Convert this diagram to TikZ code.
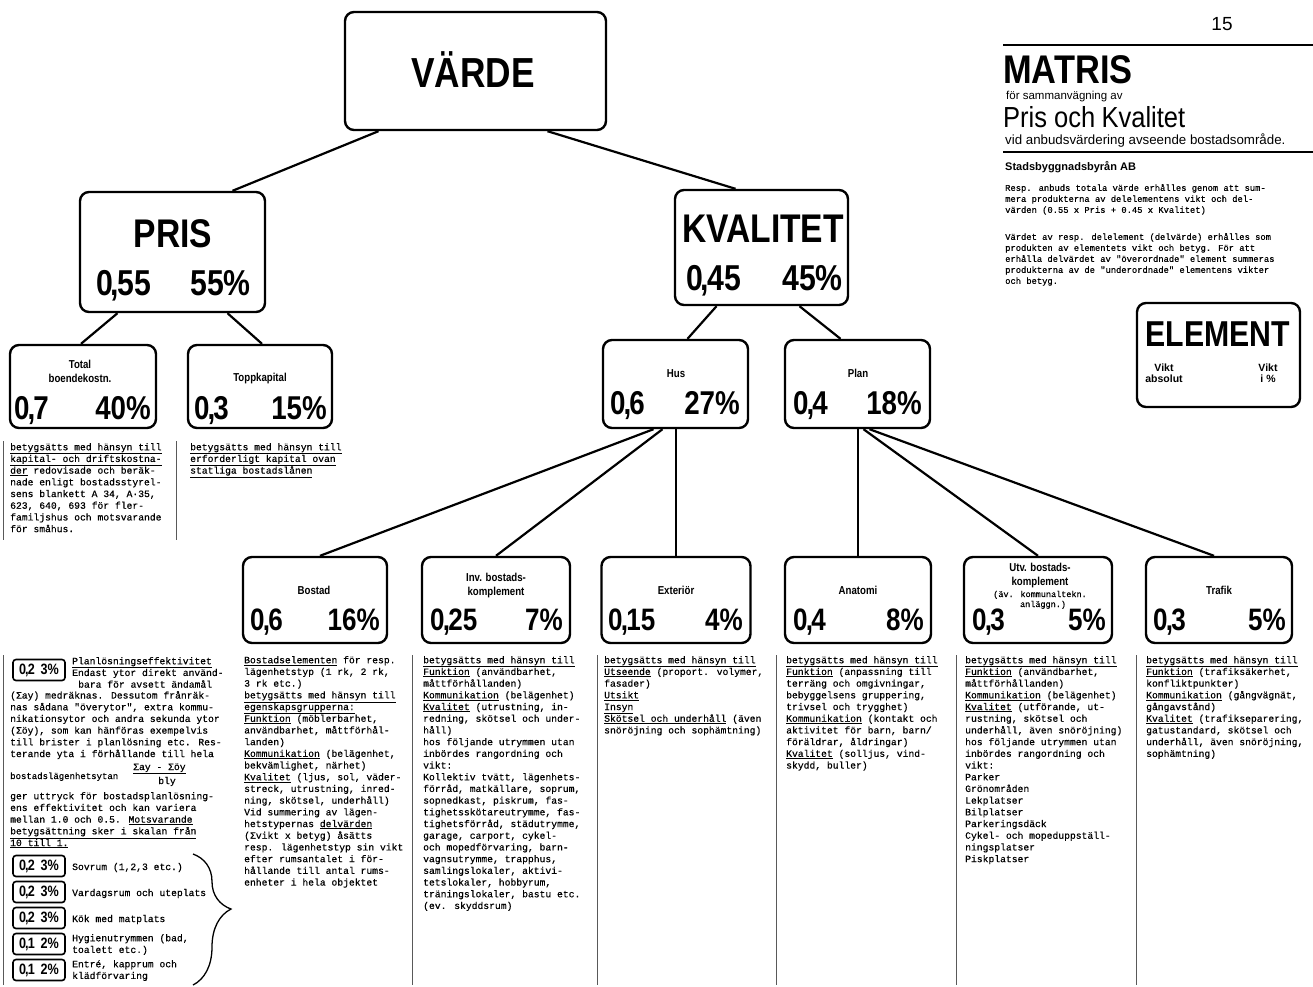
\documentclass[tikz,border=0pt]{standalone}
\usepackage{fontspec}
\setmainfont{Liberation Sans}
\newfontfamily\tw[FakeBold=0.45]{Liberation Mono}
\usepackage{graphicx}
\usetikzlibrary{decorations.pathreplacing,calc}
\newcommand\cnd[1]{\scalebox{0.84}[1]{#1}}
\newcommand\cma{\kern-.07em,\kern-.07em}
\begin{document}
\begin{tikzpicture}[x=1pt,y=-1pt,
  box/.style={draw, line width=2.4pt, rounded corners=9pt, inner sep=0pt},
  sbox/.style={draw, line width=1.6pt, rounded corners=3pt, inner sep=0pt, minimum width=52pt, minimum height=21pt, font=\bfseries\fontsize{15}{15}\selectfont},
  con/.style={line width=2.2pt},
  sep/.style={line width=0.9pt, black!65},
  col/.style={anchor=north west, align=left, inner sep=0pt, font=\tw\fontsize{9.7}{11.7}\selectfont},
  big/.style={inner sep=0pt, font=\bfseries\fontsize{40}{40}\selectfont},
  num1/.style={inner sep=0pt, font=\bfseries\fontsize{36}{36}\selectfont},
  num2/.style={inner sep=0pt, font=\bfseries\fontsize{33}{33}\selectfont},
  num3/.style={inner sep=0pt, font=\bfseries\fontsize{31}{31}\selectfont},
  lab/.style={inner sep=0pt, anchor=base, font=\bfseries\fontsize{11.5}{11.5}\selectfont},
  txt/.style={inner sep=0pt, anchor=base west, font=\tw\fontsize{9.7}{11.7}\selectfont}]
\fill[white] (0,0) rectangle (1313,986);
\useasboundingbox (0,0) rectangle (1313,986);

% ---------------- header ----------------
\node[anchor=base, inner sep=0pt, font=\fontsize{19}{19}\selectfont] (pg) at (1222,30) {15};
\draw[line width=1.5pt] (1003,45) -- (1313,45);
\node[anchor=base west, inner sep=0pt, font=\bfseries\fontsize{40}{40}\selectfont] (mat) at (1003,83) {\scalebox{0.86}[1]{MATRIS}};
\node[anchor=base west, inner sep=0pt, font=\fontsize{11.5}{11.5}\selectfont] (fsv) at (1006,99) {för sammanvägning av};
\node[anchor=base west, inner sep=0pt, font=\fontsize{29}{29}\selectfont] (pok) at (1003,127) {\scalebox{0.88}[1]{Pris och\kern-1pt\ Kvalitet}};
\node[anchor=base west, inner sep=0pt, font=\fontsize{13.3}{13.3}\selectfont] (vid) at (1005,144) {vid anbudsvärdering avseende bostadsområde.};
\draw[line width=1.5pt] (1003,152) -- (1313,152);
\node[anchor=base west, inner sep=0pt, font=\bfseries\fontsize{11}{11}\selectfont] (sb) at (1005,170) {Stadsbyggnadsbyrån AB};
\node[anchor=north west, align=left, inner sep=0pt, font=\tw\fontsize{8.8}{11}\selectfont] (p1) at (1005,184)
 {Resp. anbuds totala värde erhålles genom att sum-\\mera produkterna av delelementens vikt och del-\\värden (0.55 x Pris + 0.45 x Kvalitet)};
\node[anchor=north west, align=left, inner sep=0pt, font=\tw\fontsize{8.8}{11}\selectfont] (p2) at (1005,233)
 {Värdet av resp. delelement (delvärde) erhålles som\\produkten av elementets vikt och betyg. För att\\erhålla delvärdet av "överordnade" element summeras\\produkterna av de "underordnade" elementens vikter\\och betyg.};

% ELEMENT legend
\node[box, minimum width=163pt, minimum height=104pt] (elem) at (1218.5,355) {};
\node[anchor=base, inner sep=0pt, font=\bfseries\fontsize{36}{36}\selectfont] (elemt) at (1218,346) {\cnd{ELEMENT}};
\node[anchor=north, align=center, inner sep=0pt, font=\bfseries\fontsize{10.5}{11}\selectfont] (vabs) at (1164,364) {Vikt\\absolut};
\node[anchor=north, align=center, inner sep=0pt, font=\bfseries\fontsize{10.5}{11}\selectfont] (vpro) at (1268,364) {Vikt\\i \%};

% ---------------- level 1 ----------------
\node[box, minimum width=261pt, minimum height=118pt] (vard) at (475.5,71) {};
\node[big, anchor=base, font=\bfseries\fontsize{42}{42}\selectfont] (vardt) at (473,87) {\cnd{VÄRDE}};

\node[box, minimum width=185pt, minimum height=120pt] (pris) at (172.5,252) {};
\node[big, anchor=base] (prist) at (173,247) {\cnd{PRIS}};
\node[num1, anchor=base west] (prisa) at (96,295) {\cnd{0\cma55}};
\node[num1, anchor=base east] (prisb) at (251,295) {\cnd{55\%}};

\node[box, minimum width=173pt, minimum height=115pt] (kval) at (761.5,247.5) {};
\node[big, anchor=base] (kvalt) at (763,242) {\cnd{KVALITET}};
\node[num1, anchor=base west] (kvala) at (686,290) {\cnd{0\cma45}};
\node[num1, anchor=base east] (kvalb) at (843,290) {\cnd{45\%}};

% ---------------- level 2 ----------------
\node[box, minimum width=146pt, minimum height=83pt] (tot) at (83,386.5) {};
\node[lab] (tott) at (80,368) {\cnd{Total}};
\node[lab] (tott2) at (80,382) {\cnd{boendekostn.}};
\node[num2, anchor=base west] (tota) at (14,419) {\cnd{0\cma7}};
\node[num2, anchor=base east] (totb) at (151,419) {\cnd{40\%}};

\node[box, minimum width=144pt, minimum height=83pt] (topp) at (260,386.5) {};
\node[lab] (toppt) at (260,381) {\cnd{Toppkapital}};
\node[num2, anchor=base west] (toppa) at (194,419) {\cnd{0\cma3}};
\node[num2, anchor=base east] (toppb) at (327,419) {\cnd{15\%}};

\node[box, minimum width=145pt, minimum height=88pt] (hus) at (675.5,384) {};
\node[lab] (hust) at (676,377) {\cnd{Hus}};
\node[num2, anchor=base west] (husa) at (610,414) {\cnd{0\cma6}};
\node[num2, anchor=base east] (husb) at (740,414) {\cnd{27\%}};

\node[box, minimum width=145pt, minimum height=88pt] (plan) at (857.5,384) {};
\node[lab] (plant) at (858,377) {\cnd{Plan}};
\node[num2, anchor=base west] (plana) at (793,414) {\cnd{0\cma4}};
\node[num2, anchor=base east] (planb) at (922,414) {\cnd{18\%}};

% ---------------- level 3 ----------------
\node[box, minimum width=144pt, minimum height=86pt] (bost) at (315,600) {};
\node[lab] (bostt) at (314,594) {\cnd{Bostad}};
\node[num3, anchor=base west] (bosta) at (250,630) {\cnd{0\cma6}};
\node[num3, anchor=base east] (bostb) at (380,630) {\cnd{16\%}};

\node[box, minimum width=148pt, minimum height=86pt] (inv) at (496,600) {};
\node[lab] (invt) at (496,581) {\cnd{Inv. bostads-}};
\node[lab] (invt2) at (496,595) {\cnd{komplement}};
\node[num3, anchor=base west] (inva) at (430,630) {\cnd{0\cma25}};
\node[num3, anchor=base east] (invb) at (563,630) {\cnd{7\%}};

\node[box, minimum width=149pt, minimum height=86pt] (ext) at (676,600) {};
\node[lab] (extt) at (676,594) {\cnd{Exteriör}};
\node[num3, anchor=base west] (exta) at (608,630) {\cnd{0\cma15}};
\node[num3, anchor=base east] (extb) at (743,630) {\cnd{4\%}};

\node[box, minimum width=146pt, minimum height=86pt] (anat) at (858,600) {};
\node[lab] (anatt) at (858,594) {\cnd{Anatomi}};
\node[num3, anchor=base west] (anata) at (793,630) {\cnd{0\cma4}};
\node[num3, anchor=base east] (anatb) at (924,630) {\cnd{8\%}};

\node[box, minimum width=148pt, minimum height=86pt] (utv) at (1038,600) {};
\node[lab] (utvt) at (1040,571) {\cnd{Utv. bostads-}};
\node[lab] (utvt2) at (1040,585) {\cnd{komplement}};
\node[anchor=base, inner sep=0pt, font=\tw\fontsize{8.5}{8.5}\selectfont] (utvt3) at (1040,597) {(äv. kommunaltekn.};
\node[anchor=base, inner sep=0pt, font=\tw\fontsize{8.5}{8.5}\selectfont] (utvt4) at (1043,607) {anläggn.)};
\node[num3, anchor=base west] (utva) at (972,630) {\cnd{0\cma3}};
\node[num3, anchor=base east] (utvb) at (1106,630) {\cnd{5\%}};

\node[box, minimum width=146pt, minimum height=86pt] (traf) at (1219,600) {};
\node[lab] (traft) at (1219,594) {\cnd{Trafik}};
\node[num3, anchor=base west] (trafa) at (1153,630) {\cnd{0\cma3}};
\node[num3, anchor=base east] (trafb) at (1286,630) {\cnd{5\%}};

% ---------------- connectors ----------------
\draw[con] ([xshift=-97pt]vard.south) -- ([xshift=60pt]pris.north);
\draw[con] ([xshift=72pt]vard.south) -- ([xshift=-26pt]kval.north);
\draw[con] ([xshift=-55pt]pris.south) -- ([xshift=-2pt]tot.north);
\draw[con] ([xshift=55pt]pris.south) -- ([xshift=2pt]topp.north);
\draw[con] ([xshift=-45pt]kval.south) -- ([xshift=12pt]hus.north);
\draw[con] ([xshift=38pt]kval.south) -- ([xshift=-17pt]plan.north);
\draw[con] ([xshift=-22pt]hus.south) -- ([xshift=5pt]bost.north);
\draw[con] ([xshift=-13pt]hus.south) -- (inv.north);
\draw[con] (ext.north) -- (ext.north |- hus.south);
\draw[con] (anat.north) -- (anat.north |- plan.south);
\draw[con] ([xshift=6pt]plan.south) -- (utv.north);
\draw[con] ([xshift=12pt]plan.south) -- ([xshift=-5pt]traf.north);

% ---------------- separators ----------------
\draw[sep] (3,441) -- (3,540);
\draw[sep] (176,441) -- (176,540);
\draw[sep] (3,655) -- (3,985);
\draw[sep] (412,655) -- (412,985);
\draw[sep] (597,655) -- (597,985);
\draw[sep] (776,655) -- (776,985);
\draw[sep] (956,655) -- (956,985);
\draw[sep] (1136,655) -- (1136,985);

% ---------------- texts under level 2 ----------------
\node[col] (tottx) at (10,443) {\underline{betygsätts med hänsyn till}\\\underline{kapital- och driftskostna-}\\\underline{der} redovisade och beräk-\\nade enligt bostadsstyrel-\\sens blankett A 34, A·35,\\623, 640, 693 för fler-\\familjshus och motsvarande\\för småhus.};
\node[col] (topptx) at (190,443) {\underline{betygsätts med hänsyn till}\\\underline{erforderligt kapital ovan}\\\underline{statliga bostadslånen}};

% ---------------- texts under level 3 ----------------
\node[col] (bosttx) at (244,656) {\underline{Bostadselementen} för resp.\\lägenhetstyp (1 rk, 2 rk,\\3 rk etc.)\\\underline{betygsätts med hänsyn till}\\\underline{egenskapsgrupperna:}\\\underline{Funktion} (möblerbarhet,\\användbarhet, måttförhål-\\landen)\\\underline{Kommunikation} (belägenhet,\\bekvämlighet, närhet)\\\underline{Kvalitet} (ljus, sol, väder-\\streck, utrustning, inred-\\ning, skötsel, underhåll)\\Vid summering av lägen-\\hetstypernas \underline{delvärden}\\(Σvikt x betyg) åsätts\\resp. lägenhetstyp sin vikt\\efter rumsantalet i för-\\hållande till antal rums-\\enheter i hela objektet};

\node[col] (invtx) at (423,656) {\underline{betygsätts med hänsyn till}\\\underline{Funktion} (användbarhet,\\måttförhållanden)\\\underline{Kommunikation} (belägenhet)\\\underline{Kvalitet} (utrustning, in-\\redning, skötsel och under-\\håll)\\hos följande utrymmen utan\\inbördes rangordning och\\vikt:\\Kollektiv tvätt, lägenhets-\\förråd, matkällare, soprum,\\sopnedkast, piskrum, fas-\\tighetsskötareutrymme, fas-\\tighetsförråd, städutrymme,\\garage, carport, cykel-\\och mopedförvaring, barn-\\vagnsutrymme, trapphus,\\samlingslokaler, aktivi-\\tetslokaler, hobbyrum,\\träningslokaler, bastu etc.\\(ev. skyddsrum)};

\node[col] (exttx) at (604,656) {\underline{betygsätts med hänsyn till}\\\underline{Utseende} (proport. volymer,\\fasader)\\\underline{Utsikt}\\\underline{Insyn}\\\underline{Skötsel och underhåll} (även\\snöröjning och sophämtning)};

\node[col] (anattx) at (786,656) {\underline{betygsätts med hänsyn till}\\\underline{Funktion} (anpassning till\\terräng och omgivningar,\\bebyggelsens gruppering,\\trivsel och trygghet)\\\underline{Kommunikation} (kontakt och\\aktivitet för barn, barn/\\föräldrar, åldringar)\\\underline{Kvalitet} (solljus, vind-\\skydd, buller)};

\node[col] (utvtx) at (965,656) {\underline{betygsätts med hänsyn till}\\\underline{Funktion} (användbarhet,\\måttförhållanden)\\\underline{Kommunikation} (belägenhet)\\\underline{Kvalitet} (utförande, ut-\\rustning, skötsel och\\underhåll, även snöröjning)\\hos följande utrymmen utan\\inbördes rangordning och\\vikt:\\Parker\\Grönområden\\Lekplatser\\Bilplatser\\Parkeringsdäck\\Cykel- och mopeduppställ-\\ningsplatser\\Piskplatser};

\node[col] (traftx) at (1146,656) {\underline{betygsätts med hänsyn till}\\\underline{Funktion} (trafiksäkerhet,\\konfliktpunkter)\\\underline{Kommunikation} (gångvägnät,\\gångavstånd)\\\underline{Kvalitet} (trafikseparering,\\gatustandard, skötsel och\\underhåll, även snöröjning,\\sophämtning)};

% ---------------- Planlösning column ----------------
\node[sbox] (pl0) at (39,670) {\cnd{0\cma2\hspace{7pt}3\%}};
\node[col] (pltx) at (72,657) {\underline{Planlösningseffektivitet}\\Endast ytor direkt använd-\\\hspace*{6pt}bara för avsett ändamål};
\node[col] (pltx2) at (10,691) {(Σay) medräknas. Dessutom frånräk-\\nas sådana "överytor", extra kommu-\\nikationsytor och andra sekunda ytor\\(Σöy), som kan hänföras exempelvis\\till brister i planlösning etc. Res-\\terande yta i förhållande till hela};
\node[txt, font=\tw\fontsize{9}{11}\selectfont] (blyt) at (10,779) {bostadslägenhetsytan};
\node[txt] (fnum) at (133,770) {\underline{Σay - Σöy}};
\node[anchor=base, inner sep=0pt, font=\tw\fontsize{9.7}{11.7}\selectfont] (fden) at (167,784) {bly};
\node[col] (pltx3) at (10,792) {ger uttryck för bostadsplanlösning-\\ens effektivitet och kan variera\\mellan 1.0 och 0.5. \underline{Motsvarande}\\\underline{betygsättning sker i skalan från}\\\underline{10 till 1.}};

\node[sbox] (r1) at (39,866) {\cnd{0\cma2\hspace{7pt}3\%}};
\node[sbox] (r2) at (39,892) {\cnd{0\cma2\hspace{7pt}3\%}};
\node[sbox] (r3) at (39,918) {\cnd{0\cma2\hspace{7pt}3\%}};
\node[sbox] (r4) at (39,944) {\cnd{0\cma1\hspace{7pt}2\%}};
\node[sbox] (r5) at (39,970) {\cnd{0\cma1\hspace{7pt}2\%}};
\node[txt] (r1t) at (72,870) {Sovrum (1,2,3 etc.)};
\node[txt] (r2t) at (72,896) {Vardagsrum och uteplats};
\node[txt] (r3t) at (72,922) {Kök med matplats};
\node[col] (r4t) at (72,934) {Hygienutrymmen (bad,\\toalett etc.)};
\node[col] (r5t) at (72,960) {Entré, kapprum och\\klädförvaring};

\coordinate (bt) at (193,854);
\coordinate (bb) at (193,985);
\draw[line width=1.3pt, decorate, decoration={brace, amplitude=38pt, aspect=0.42}] (bt) -- (bb);
\end{tikzpicture}
\end{document}
